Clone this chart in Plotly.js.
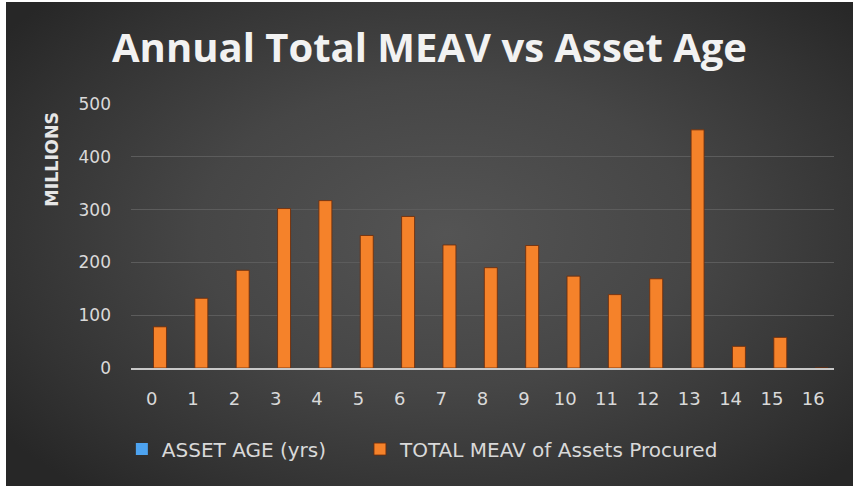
<!DOCTYPE html>
<html>
<head>
<meta charset="utf-8">
<script src="https://cdn.plot.ly/plotly-3.0.1.min.js"></script>
<style>
  html, body { margin: 0; padding: 0; background: #ffffff; width: 856px; height: 490px; overflow: hidden; }
  #frame {
    position: absolute; left: 6px; top: 2px; width: 847px; height: 484px;
    background: radial-gradient(ellipse 65% 70% at 52% 48%, #545454 0%, #464646 45%, #333333 80%, #272727 100%);
  }
  #chart { position: absolute; left: 0; top: 0; width: 847px; height: 484px; }
</style>
</head>
<body>
<div id="frame"><div id="chart"></div></div>
<script>
// Category labels (asset age in years)
const categories = ["0","1","2","3","4","5","6","7","8","9","10","11","12","13","14","15","16"];
// Series 1: asset age in years (raw units; axis is displayed in millions)
const assetAge = [0,1,2,3,4,5,6,7,8,9,10,11,12,13,14,15,16];
// Series 2: total MEAV, in millions
const totalMeav = [78,132,185,302,317,251,287,233,190,232,174,139,169,451,41,58,0];
const yTicks = [0,100,200,300,400,500];
const DISPLAY_UNIT = 1e6; // axis display unit: millions

const tickFont = "'DejaVu Sans', sans-serif";
const textCol = "#d9d9d9";

const traces = [
  {
    type: "bar", name: "ASSET AGE (yrs)", x: categories,
    y: assetAge.map(v => v / DISPLAY_UNIT),
    marker: { color: "#4da3f0" }, hoverinfo: "skip", legend: "legend"
  },
  {
    type: "bar", name: "TOTAL MEAV of Assets Procured", x: categories, y: totalMeav,
    marker: { color: "#f5822a", line: { color: "rgba(110,45,10,0.85)", width: 1 } },
    legend: "legend2"
  }
];

const legendBase = {
  orientation: "h", xanchor: "left", y: -0.307, yanchor: "middle",
  font: { family: tickFont, size: 20, color: textCol },
  bgcolor: "rgba(0,0,0,0)", itemwidth: 30
};

const layout = {
  width: 847, height: 484,
  paper_bgcolor: "rgba(0,0,0,0)", plot_bgcolor: "rgba(0,0,0,0)",
  margin: { l: 125, r: 19, t: 102, b: 118 },
  barmode: "group", bargap: 0.196, bargroupgap: 0.22,
  title: {
    text: "<b>Annual Total MEAV vs Asset Age</b>",
    x: 0.5, xanchor: "center", y: 0.905, yanchor: "middle", yref: "container",
    font: { family: "'Open Sans', sans-serif", size: 40, color: "#f2f2f2" }
  },
  xaxis: {
    type: "category", showgrid: false, zeroline: false,
    showline: true, linecolor: "#c8c8c8", linewidth: 2,
    ticks: "", ticklabelstandoff: 13,
    tickfont: { family: tickFont, size: 18, color: textCol }
  },
  yaxis: {
    range: [0, 500], tickvals: yTicks, ticktext: yTicks.map(String),
    showgrid: true, gridcolor: "#5c5c5c", gridwidth: 1, zeroline: false,
    showline: false, ticks: "", ticklabelstandoff: 19,
    tickfont: { family: tickFont, size: 17, color: textCol }
  },
  showlegend: true,
  legend: Object.assign({}, legendBase, { x: -0.013 }),
  legend2: Object.assign({}, legendBase, { x: 0.3257 }),
  annotations: [
    {
      text: "<b>MILLIONS</b>", xref: "paper", yref: "paper",
      x: -0.112, y: 0.79, xanchor: "center", yanchor: "middle",
      textangle: -90, showarrow: false,
      font: { family: "'DejaVu Sans', sans-serif", size: 17.5, color: "#e6e6e6" }
    }
  ]
};

Plotly.newPlot("chart", traces, layout, { displayModeBar: false, staticPlot: true });
</script>
</body>
</html>
